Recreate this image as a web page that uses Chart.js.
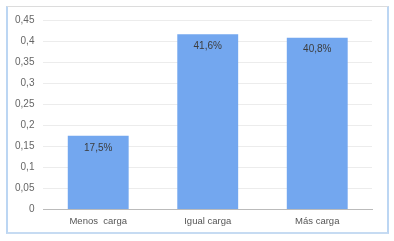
<!DOCTYPE html>
<html>
<head>
<meta charset="utf-8">
<script src="https://cdn.jsdelivr.net/npm/chart.js@4/dist/chart.umd.min.js"></script>
<style>
body{margin:0;background:#fff;}
#wrap{position:relative;width:394px;height:241px;}
#frame{position:absolute;left:6px;top:6px;width:379px;height:225px;border-top:1px solid #dcdcdc;border-left:2px solid #bcd6f3;border-right:2px solid #bcd6f3;border-bottom:2px solid #c6dbf2;}
#chart{position:absolute;left:0;top:0;}
</style>
</head>
<body>
<div id="wrap">
  <div id="frame"></div>
  <canvas id="chart" width="394" height="241"></canvas>
</div>
<script>
// datos
var categorias=['Menos  carga','Igual carga','Más carga'];
var valores=[0.175,0.416,0.408];
var etiquetas=['17,5%','41,6%','40,8%'];

function coma(v){
    return (Math.round(v*100)/100).toString().replace('.',',');
}

// texto dentro de cada barra
var barLabels={
    id:'barLabels',
    afterDatasetsDraw:function(chart){
        var ctx=chart.ctx;
        var meta=chart.getDatasetMeta(0);
        ctx.save();
        ctx.font='10px "Liberation Sans", Arial, sans-serif';
        ctx.fillStyle='#3c3c3c';
        ctx.textAlign='center';
        ctx.textBaseline='middle';
        for(var i=0;i<meta.data.length;i++){
            var b=meta.data[i];
            ctx.fillText(etiquetas[i],b.x,b.y+12);
        }
        ctx.restore();
    }
};

var ctx=document.getElementById('chart').getContext('2d');
var myChart=new Chart(ctx,{
    type:'bar',
    data:{
        labels:categorias,
        datasets:[{
            data:valores,
            backgroundColor:'#73a7ef',
            barPercentage:0.556,
            categoryPercentage:1
        }]
    },
    options:{
        responsive:false,
        animation:false,
        layout:{padding:{left:6,right:22,top:20,bottom:8}},
        plugins:{legend:{display:false},tooltip:{enabled:false}},
        scales:{
            x:{
                grid:{display:false,drawTicks:false},
                border:{color:'#bbb'},
                ticks:{color:'#555',padding:6,font:{size:9.5,family:'"Liberation Sans", Arial, sans-serif'}}
            },
            y:{
                min:0,max:0.45,
                grid:{color:'#ececec',drawTicks:false},
                border:{display:false},
                ticks:{stepSize:0.05,color:'#666',padding:9,font:{size:10,family:'"Liberation Sans", Arial, sans-serif'},
                    callback:function(v){return coma(v);}}
            }
        }
    },
    plugins:[barLabels]
});
</script>
</body>
</html>
